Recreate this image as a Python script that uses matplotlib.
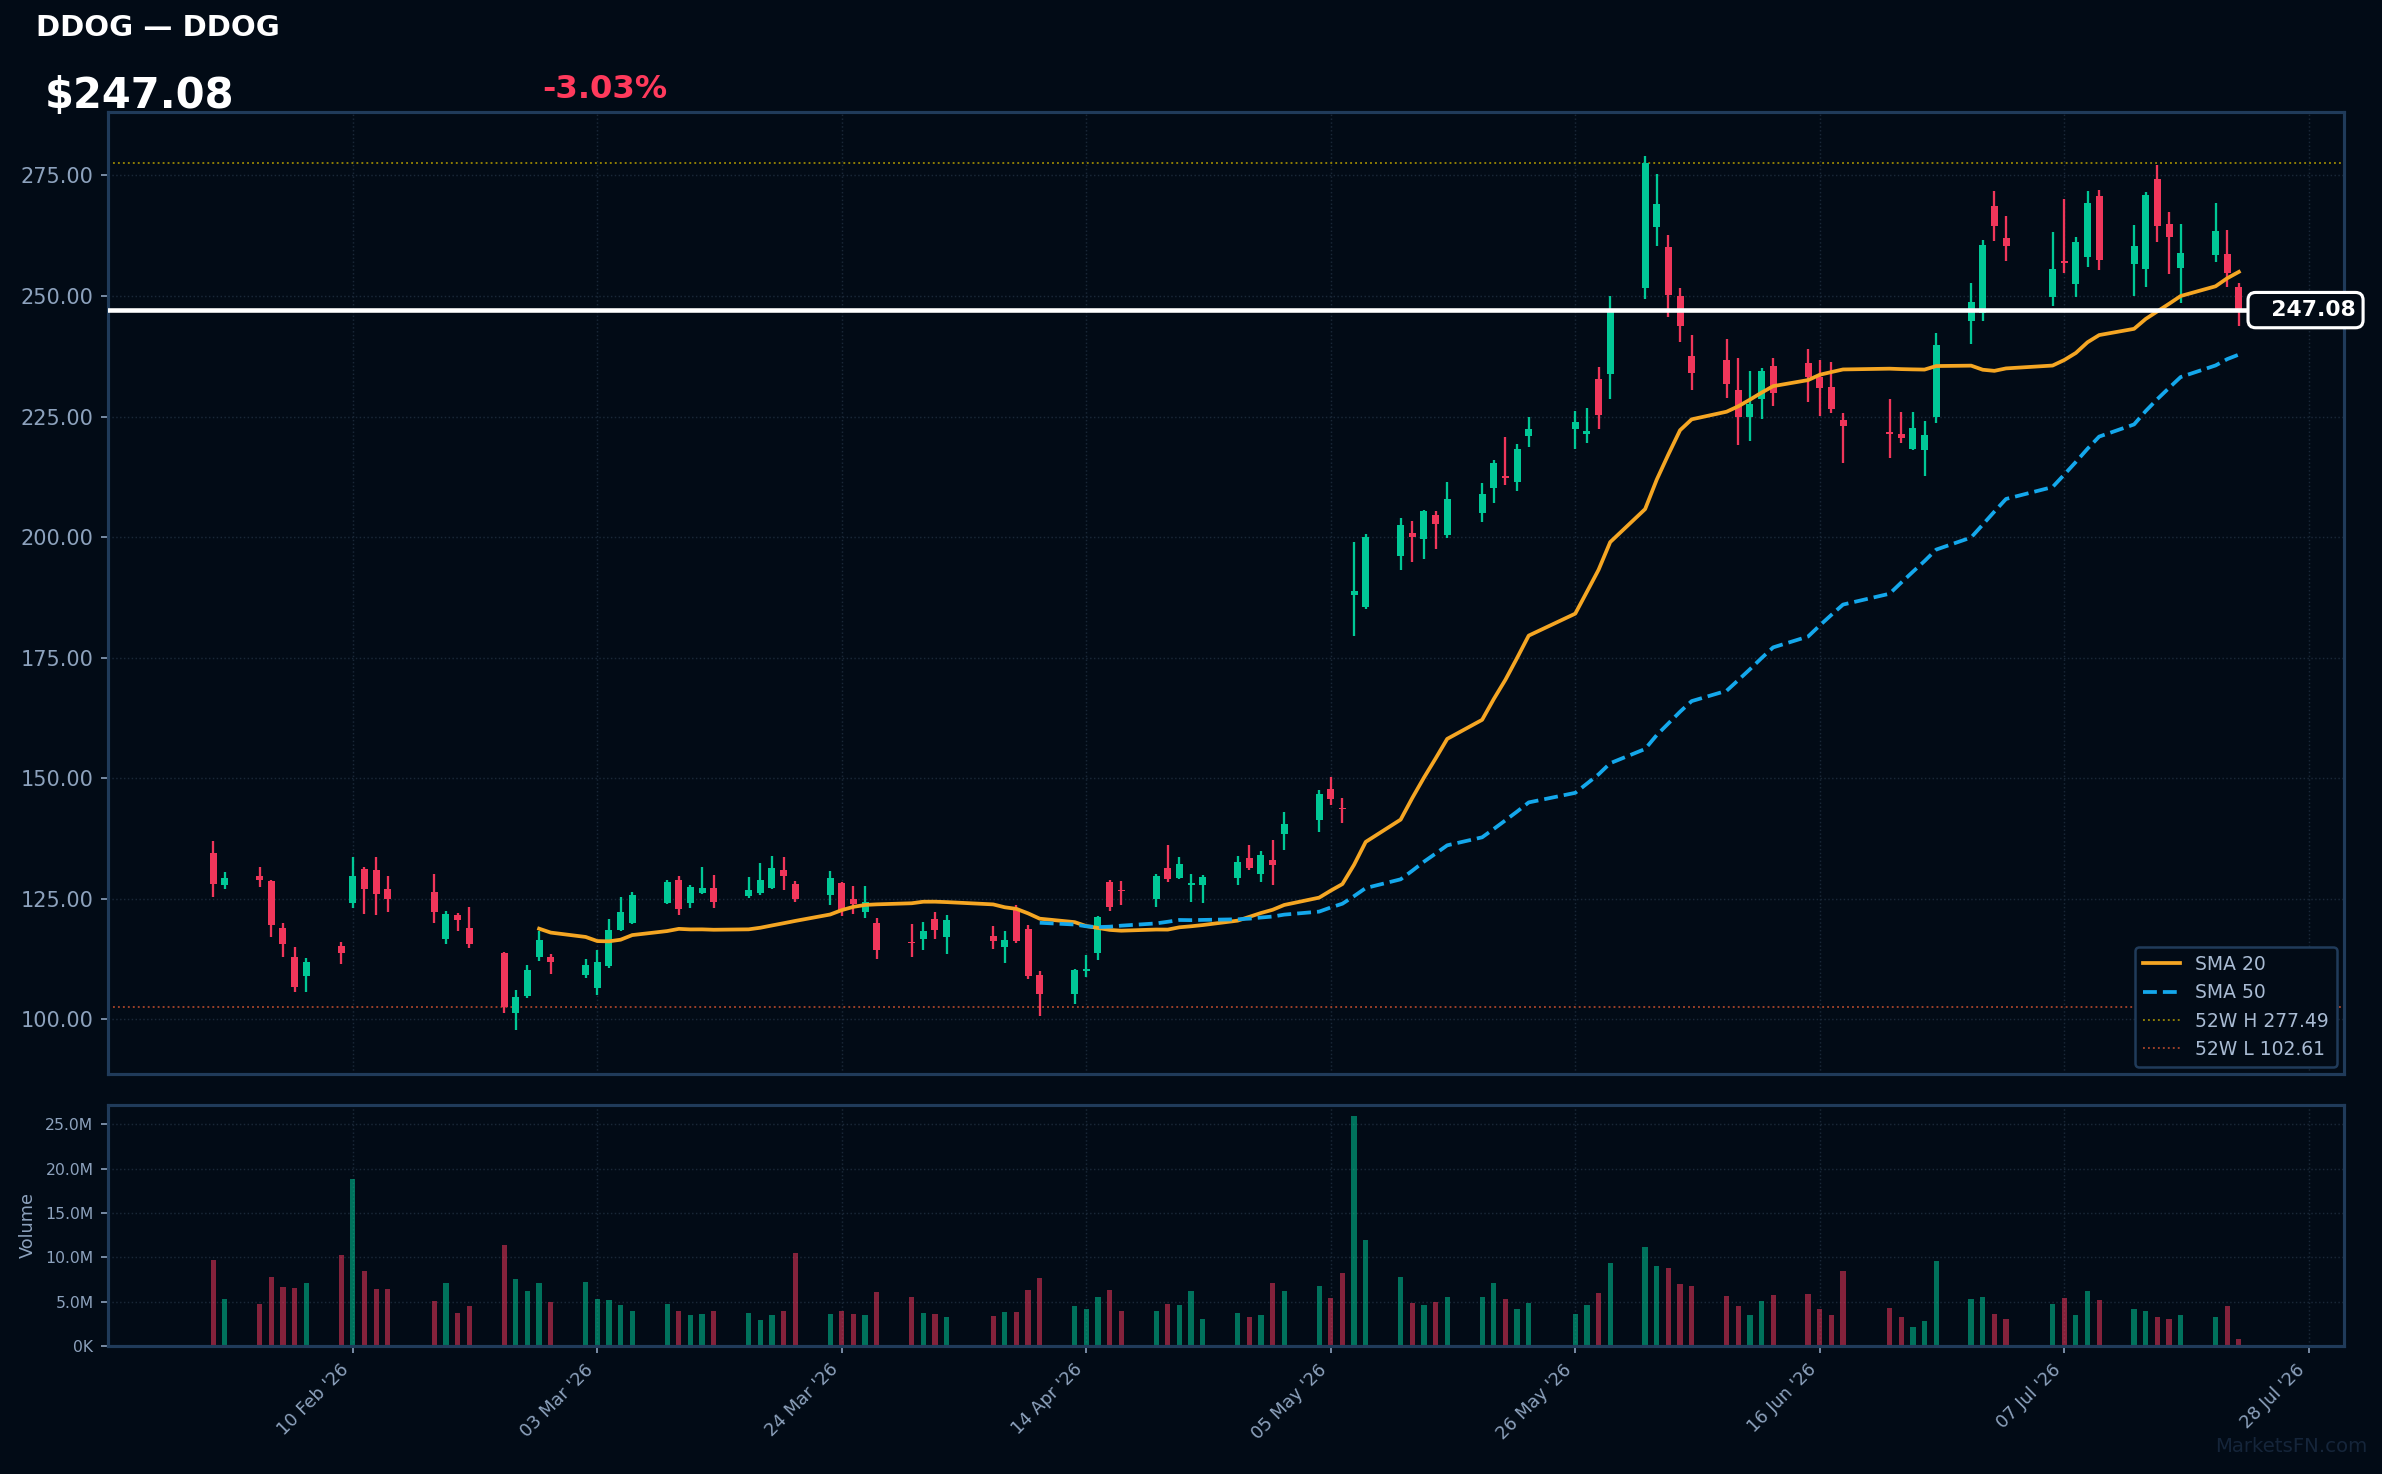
import pandas as pd
import matplotlib
matplotlib.use("Agg")
import matplotlib.pyplot as plt
import matplotlib.dates as mdates
from matplotlib.ticker import FuncFormatter, MultipleLocator, FixedLocator
import matplotlib.transforms as mtransforms

TICKER = "DDOG"
LAST_PRICE = 247.08
CHANGE_PCT = -3.03

# trading sessions 29 Jan - 22 Jul 2026, exchange holidays skipped
HOLIDAYS = ["2026-02-16", "2026-04-03", "2026-05-25", "2026-06-19", "2026-07-03"]
dates = pd.bdate_range("2026-01-29", "2026-07-22", freq="C", holidays=HOLIDAYS)

opens = [134.5, 127.9, 129.8, 128.7, 118.9, 113.0, 108.9, 115.1, 124.0, 131.2,
         131.0, 126.9, 126.4, 116.7, 121.7, 119.0, 113.8, 101.2, 104.8, 112.8,
         112.8, 109.1, 106.4, 111.0, 118.4, 120.0, 124.0, 128.9, 124.2, 126.2,
         127.3, 125.6, 126.2, 127.3, 131.0, 128.1, 125.8, 128.3, 125.0, 122.3,
         120.0, 115.9, 116.7, 120.7, 117.1, 117.3, 114.9, 122.7, 118.8, 109.1,
         105.2, 110.0, 113.8, 128.5, 126.7, 125.0, 131.4, 129.3, 127.9, 127.9,
         129.3, 133.5, 130.2, 133.1, 138.4, 141.3, 147.7, 143.9, 187.9, 185.5,
         196.1, 200.8, 199.5, 204.6, 200.4, 205.0, 210.2, 212.6, 211.5, 221.0,
         222.4, 221.4, 232.7, 233.9, 251.7, 264.3, 260.2, 250.1, 237.6, 236.8,
         230.6, 224.9, 228.6, 235.5, 236.1, 233.3, 231.2, 224.2, 221.8, 221.3,
         218.2, 218.0, 224.9, 244.8, 246.5, 268.6, 262.0, 249.9, 257.2, 252.5,
         258.1, 270.7, 256.6, 255.6, 274.2, 264.9, 255.8, 258.5, 258.7, 251.9]
highs = [137.0, 130.6, 131.6, 128.9, 120.0, 114.9, 112.6, 116.1, 133.7, 131.6,
         133.7, 129.8, 130.2, 122.5, 122.1, 123.3, 114.0, 106.0, 111.2, 118.2,
         113.6, 112.4, 114.3, 120.7, 125.4, 126.4, 128.9, 129.8, 127.9, 131.6,
         130.0, 129.5, 132.4, 133.9, 133.7, 128.7, 130.8, 128.5, 127.7, 127.7,
         120.9, 119.8, 120.2, 122.3, 121.7, 119.4, 118.2, 123.6, 119.6, 110.0,
         110.5, 113.4, 121.5, 128.9, 128.7, 130.2, 136.2, 133.7, 130.2, 130.0,
         133.9, 136.2, 134.9, 137.2, 143.0, 147.5, 150.2, 145.9, 199.0, 200.7,
         204.0, 203.3, 205.7, 205.4, 211.5, 211.2, 215.9, 220.7, 219.4, 225.0,
         226.1, 226.8, 235.3, 250.1, 279.1, 275.4, 262.6, 251.6, 242.0, 241.1,
         237.2, 234.5, 235.1, 237.2, 239.0, 236.8, 236.4, 225.8, 228.7, 226.0,
         226.0, 224.0, 242.3, 252.7, 261.6, 271.7, 266.5, 263.2, 270.2, 262.2,
         271.7, 271.9, 264.7, 271.5, 277.1, 267.4, 264.9, 269.2, 263.6, 252.6]
lows = [125.4, 127.1, 127.5, 117.1, 112.8, 105.6, 105.6, 111.4, 123.1, 121.9,
        121.7, 122.3, 120.0, 115.5, 118.2, 114.7, 101.2, 97.7, 104.3, 112.0,
        109.3, 108.5, 105.0, 110.7, 118.2, 119.8, 123.8, 121.7, 123.1, 126.0,
        123.1, 125.2, 125.8, 127.1, 126.7, 124.4, 123.6, 121.5, 121.9, 120.9,
        112.4, 113.0, 114.3, 116.7, 113.6, 114.5, 111.6, 115.9, 108.3, 100.6,
        103.1, 108.7, 112.2, 122.5, 123.6, 123.3, 128.5, 129.1, 124.4, 124.2,
        127.9, 131.0, 128.5, 127.9, 135.1, 138.8, 144.4, 140.6, 179.4, 185.0,
        193.1, 194.8, 195.4, 197.6, 199.9, 203.1, 207.0, 210.7, 209.6, 218.7,
        218.3, 219.6, 222.4, 228.6, 249.4, 260.4, 245.7, 240.4, 230.6, 228.8,
        219.1, 219.9, 224.5, 227.2, 228.1, 225.2, 225.8, 215.4, 216.4, 219.5,
        218.0, 212.7, 223.6, 240.1, 244.9, 261.4, 257.3, 248.0, 254.8, 249.7,
        256.0, 255.4, 250.1, 251.9, 261.2, 254.5, 248.6, 257.0, 251.9, 243.8]
closes = [128.1, 129.3, 128.9, 119.5, 115.5, 106.6, 111.8, 113.8, 129.8, 127.1,
          126.0, 125.0, 122.3, 121.9, 120.5, 115.5, 102.61, 104.5, 110.3, 116.5,
          111.8, 111.2, 111.8, 118.4, 122.3, 125.8, 128.5, 122.9, 127.5, 127.3,
          124.4, 126.7, 128.9, 131.4, 129.8, 125.0, 129.3, 122.7, 123.8, 124.4,
          114.3, 115.7, 118.2, 118.6, 120.5, 116.3, 116.5, 116.3, 108.9, 105.2,
          110.1, 110.4, 121.1, 123.3, 126.5, 129.8, 129.1, 132.2, 128.0, 129.5,
          132.6, 131.4, 134.1, 132.0, 140.5, 146.7, 145.7, 143.5, 188.9, 200.1,
          202.5, 200.1, 205.4, 202.7, 208.0, 208.9, 215.3, 212.2, 218.2, 222.4,
          223.8, 221.9, 225.3, 247.0, 277.49, 269.1, 250.3, 243.7, 234.1, 231.7,
          224.9, 227.7, 234.4, 229.8, 233.1, 231.0, 226.5, 223.0, 221.4, 220.6,
          222.7, 221.1, 239.9, 248.7, 260.5, 264.5, 260.4, 255.6, 256.9, 261.2,
          269.2, 257.5, 260.3, 270.9, 264.5, 262.2, 258.9, 263.4, 254.8, 247.08]
# volume in millions of shares
volume_m = [9.7, 5.3, 4.7, 7.8, 6.65, 6.5, 7.1, 10.3, 18.8, 8.5,
            6.4, 6.4, 5.1, 7.1, 3.7, 4.5, 11.4, 7.55, 6.2, 7.1,
            4.95, 7.2, 5.3, 5.2, 4.6, 4.0, 4.7, 4.0, 3.5, 3.6,
            3.9, 3.7, 2.9, 3.5, 4.0, 10.5, 3.6, 4.0, 3.6, 3.5,
            6.1, 5.5, 3.7, 3.6, 3.25, 3.4, 3.8, 3.8, 6.3, 7.7,
            4.5, 4.2, 5.5, 6.3, 4.0, 3.9, 4.7, 4.6, 6.2, 3.1,
            3.7, 3.25, 3.5, 7.1, 6.2, 6.8, 5.4, 8.2, 25.9, 12.0,
            7.8, 4.8, 4.6, 4.95, 5.5, 5.5, 7.1, 5.3, 4.2, 4.8,
            3.6, 4.6, 6.0, 9.4, 11.2, 9.0, 8.8, 7.0, 6.8, 5.6,
            4.5, 3.5, 5.1, 5.7, 5.85, 4.2, 3.5, 8.5, 4.3, 3.25,
            2.2, 2.8, 9.6, 5.3, 5.5, 3.6, 3.0, 4.7, 5.4, 3.5,
            6.2, 5.2, 4.2, 4.0, 3.25, 3.1, 3.5, 3.25, 4.5, 0.76]

BG = "#020b16"
UP = "#00c896"
DOWN = "#f0365a"
SPINE = "#203b5a"
TXT = "#8da2bd"
GRID = "#1a2838"

df = pd.DataFrame({"open": opens, "high": highs, "low": lows, "close": closes,
                   "volume": [v * 1e6 for v in volume_m]}, index=dates)
df["sma20"] = df["close"].rolling(20).mean()
df["sma50"] = df["close"].rolling(50).mean()
hi52 = df["close"].max()
lo52 = df["close"].min()
up = df["close"] >= df["open"]
colors = [UP if u else DOWN for u in up]

W, H = 2382, 1474
fig = plt.figure(figsize=(W / 150, H / 150), dpi=150, facecolor=BG)
ax = fig.add_axes([108 / W, 1 - 1074 / H, 2236 / W, 962 / H], facecolor=BG)
axv = fig.add_axes([108 / W, 1 - 1346 / H, 2236 / W, 241 / H], facecolor=BG, sharex=ax)

# candles
body_lo = df[["open", "close"]].min(axis=1)
body_h = (df["close"] - df["open"]).abs().clip(lower=0.35)
ax.vlines(df.index, df["low"], df["high"], colors=colors, lw=1.1, zorder=3)
ax.bar(df.index, body_h, bottom=body_lo, width=0.6, color=colors, zorder=4)

ax.plot(df.index, df["sma20"], color="#f5a623", lw=1.8, label="SMA 20", zorder=5)
ax.plot(df.index, df["sma50"], color="#14a8ec", lw=1.8, ls="--", label="SMA 50", zorder=5)
ax.axhline(hi52, color="#b8a000", lw=0.9, ls=":", alpha=0.8, label=f"52W H {hi52:.2f}")
ax.axhline(lo52, color="#c8502e", lw=0.9, ls=":", alpha=0.8, label=f"52W L {lo52:.2f}")
ax.axhline(LAST_PRICE, color="white", lw=2.2, zorder=6)

trans = mtransforms.blended_transform_factory(ax.transAxes, ax.transData)
ax.text(0.9605, LAST_PRICE, f"  {LAST_PRICE:.2f}", transform=trans, ha="left", va="center",
        color="white", fontsize=10.5, fontweight="bold", zorder=8, clip_on=False,
        bbox=dict(boxstyle="round,pad=0.35", fc=BG, ec="white", lw=1.5))

leg = ax.legend(loc="lower right", fontsize=9, facecolor=BG, edgecolor=SPINE,
                labelcolor="#a9bbd3", framealpha=1, borderaxespad=0.4)
leg.get_frame().set_linewidth(1.2)

# volume
axv.bar(df.index, df["volume"], width=0.45, color=colors, alpha=0.55)
axv.set_ylabel("Volume", color=TXT, fontsize=8.5)
axv.yaxis.set_major_formatter(FuncFormatter(
    lambda v, p: f"{v / 1e6:.1f}M" if v >= 1e6 else f"{v / 1e3:.0f}K"))

ax.yaxis.set_major_locator(MultipleLocator(25))
ax.yaxis.set_major_formatter(FuncFormatter(lambda v, p: f"{v:.2f}"))

tick_dates = pd.date_range("2026-02-10", periods=9, freq="21D")
axv.xaxis.set_major_locator(FixedLocator(mdates.date2num(tick_dates)))
axv.xaxis.set_major_formatter(mdates.DateFormatter("%d %b '%y"))
plt.setp(axv.get_xticklabels(), rotation=45, ha="right")
ax.tick_params(axis="x", labelbottom=False, length=0)

for a, fs in ((ax, 10), (axv, 7.5)):
    a.grid(True, color=GRID, ls=":", lw=0.7)
    a.set_axisbelow(True)
    a.tick_params(axis="y", colors=TXT, labelsize=fs)
    for s in a.spines.values():
        s.set_color(SPINE)
        s.set_linewidth(1.5)
axv.tick_params(axis="x", colors=TXT, labelsize=8.5)

fig.text(36 / W, 1 - 36 / H, f"{TICKER} \u2014 {TICKER}", color="white", fontsize=14,
         fontweight="bold", va="baseline")
fig.text(45 / W, 1 - 108 / H, f"\\${LAST_PRICE:.2f}", color="white", fontsize=20,
         fontweight="bold", va="baseline")
fig.text(542 / W, 1 - 98 / H, f"{CHANGE_PCT:.2f}%", color="#ff3a5c", fontsize=15.5,
         fontweight="bold", va="baseline")
fig.text(0.994, 0.012, "MarketsFN.com", color="#15253a", fontsize=9.5, ha="right",
         va="bottom")

fig.savefig("out.png", dpi=150, facecolor=BG)
